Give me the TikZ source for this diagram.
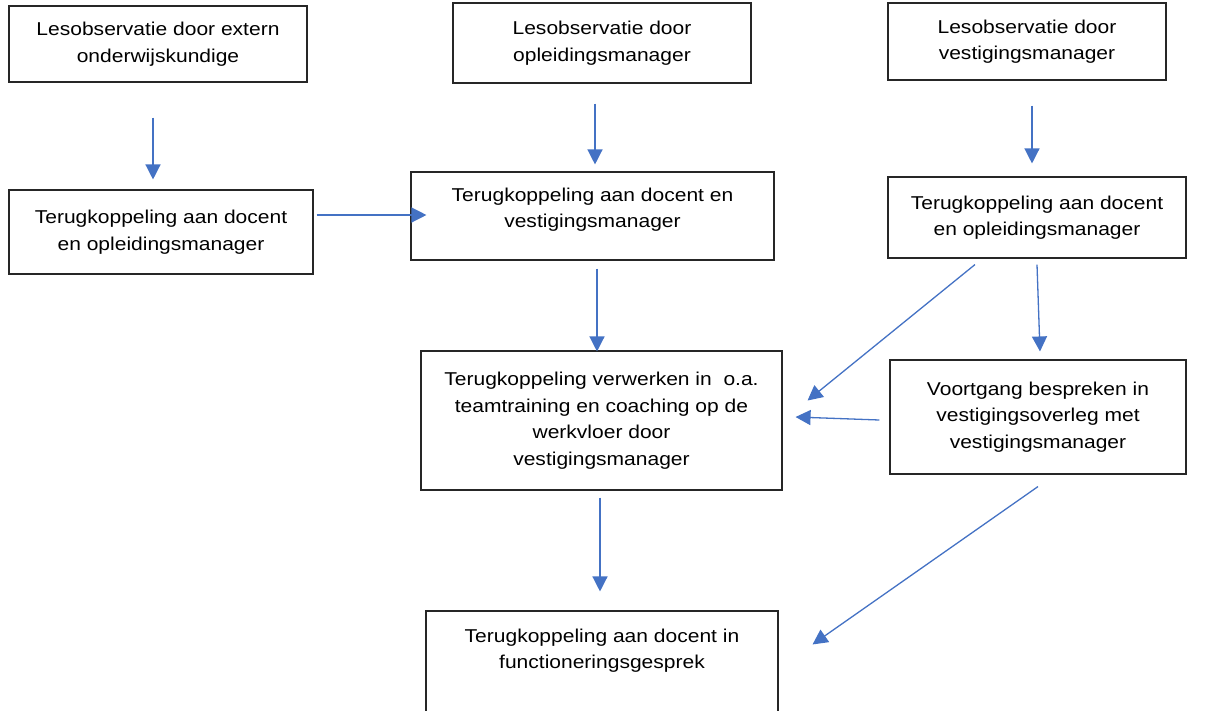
\documentclass[tikz,border=0pt]{standalone}
\usepackage{fontspec}
\setmainfont[FakeStretch=1.13]{Liberation Sans}
\usetikzlibrary{arrows.meta}
\definecolor{arrowblue}{HTML}{4472C4}
\begin{document}
\begin{tikzpicture}[x=1pt, y=-1pt,
    box/.style={draw=black!85, line width=1.1pt, align=center, inner sep=0pt,
        font=\fontsize{18.6}{26.5}\selectfont},
    arr/.style={draw=arrowblue, line width=1.3pt, -{Triangle[length=15pt, width=15pt]}}]
    \useasboundingbox (0,0) rectangle (1208,710);

    \node[box, minimum width=298pt, minimum height=76pt] (b1) at (158,44) {Lesobservatie door extern\\onderwijskundige};
    \node[box, minimum width=298pt, minimum height=80pt] (b2) at (602,43) {Lesobservatie door\\opleidingsmanager};
    \node[box, minimum width=278pt, minimum height=77pt] (b3) at (1027,41.5) {Lesobservatie door\\vestigingsmanager};
    \node[box, minimum width=304pt, minimum height=84pt] (b4) at (161,232) {Terugkoppeling aan docent\\en opleidingsmanager};
    \node[box, minimum width=363pt, minimum height=88pt] (b5) at (592.5,216) {Terugkoppeling aan docent en\\vestigingsmanager\\[-10pt]~};
    \node[box, minimum width=298pt, minimum height=81pt] (b6) at (1037,217.5) {Terugkoppeling aan docent\\en opleidingsmanager};
    \node[box, minimum width=361pt, minimum height=139pt] (b7) at (601.5,420.5) {Terugkoppeling verwerken in~ o.a.\\teamtraining en coaching op de\\werkvloer door\\vestigingsmanager};
    \node[box, minimum width=296pt, minimum height=114pt] (b8) at (1038,417) {Voortgang bespreken in\\vestigingsoverleg met\\vestigingsmanager};
    \node[box, minimum width=352pt, minimum height=120pt] (b9) at (602,671) {Terugkoppeling aan docent in\\functioneringsgesprek\\[18pt]~};

    \draw[arr] ([shift={(-5,35)}]b1.south) -- ([shift={(-8,-10)}]b4.north);
    \draw[arr] ([shift={(-7,20)}]b2.south) -- ([shift={(2.5,-7)}]b5.north);
    \draw[arr] ([shift={(5,25)}]b3.south) -- ([shift={(-5,-13)}]b6.north);
    \draw[arr] ([shift={(3,-17)}]b4.east) -- ([shift={(16,-1)}]b5.west);
    \draw[arr] ([shift={(4.5,8)}]b5.south) -- ([shift={(-4.5,1)}]b7.north);
    \draw[arr] ([shift={(-62,6)}]b6.south) -- ([shift={(25,-20)}]b7.east);
    \draw[arr] ([shift={(0,6)}]b6.south) -- ([shift={(2,-8)}]b8.north);
    \draw[arr] ([shift={(-10,3)}]b8.west) -- ([shift={(13,-3.5)}]b7.east);
    \draw[arr] ([shift={(-1.5,7)}]b7.south) -- ([shift={(-2,-19)}]b9.north);
    \draw[arr] ([shift={(0,12)}]b8.south) -- ([shift={(34,34)}]b9.north east);
\end{tikzpicture}
\end{document}
